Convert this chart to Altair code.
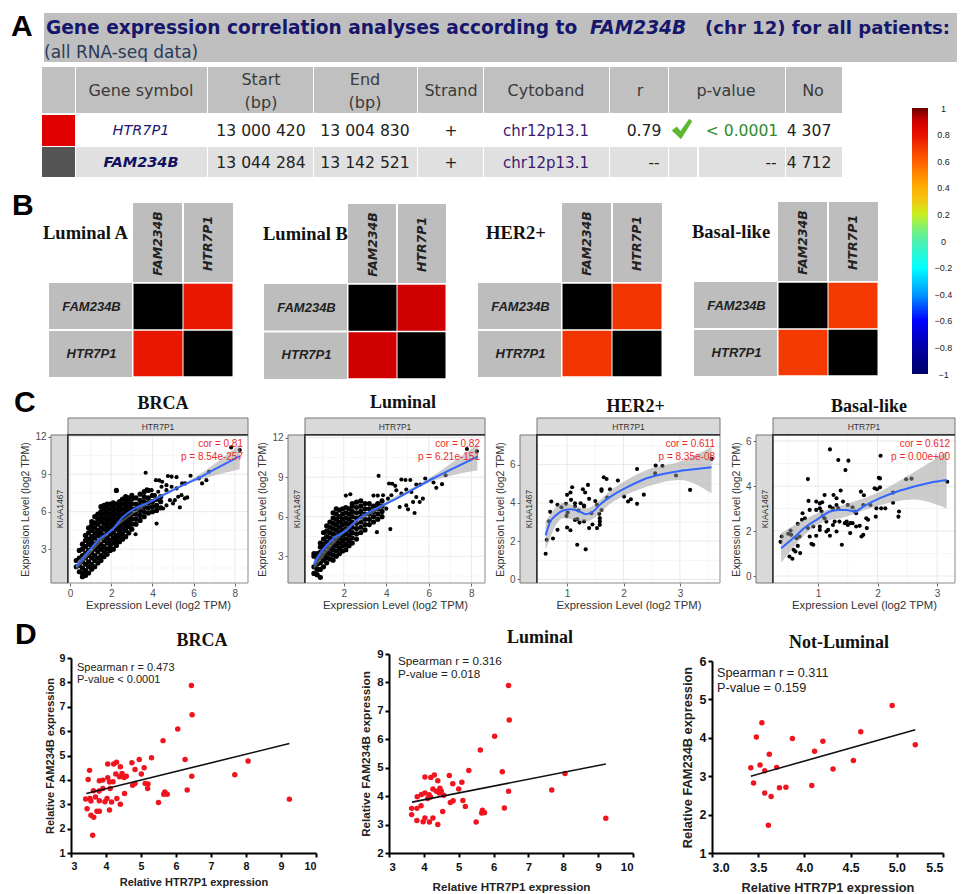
import altair as alt
import pandas as pd

# ---------- PANEL A values ----------
table_headers = ["Gene symbol", "Strand", "Cytoband", "r", "p-value", "No"]
genes = ["HTR7P1", "FAM234B"]
starts = ["13 000 420", "13 044 284"]
ends = ["13 004 830", "13 142 521"]
cytobands = ["chr12p13.1", "chr12p13.1"]
r_column = ["0.79", "--"]
p_column = ["< 0.0001", "--"]
no_column = ["4 307", "4 712"]

# ---------- PANEL B values ----------
heat_titles = ["Luminal A", "Luminal B", "HER2+", "Basal-like"]
heat_r = [0.79, 0.90, 0.72, 0.70]
scale_stops = [-1, -0.8, -0.6, -0.4, -0.2, 0, 0.1, 0.2, 0.3, 0.4, 0.6, 0.7, 0.8, 0.9, 1]
scale_colors = ["#00006a", "#0000a8", "#0000ff", "#0098ff", "#00ffff", "#50f0b0", "#80f070",
                "#c8f020", "#f0c810", "#ffb000", "#ff6000", "#f43a00", "#e81000", "#d00000", "#6b0000"]
scale_ticks = [1, 0.8, 0.6, 0.4, 0.2, 0, -0.2, -0.4, -0.6, -0.8, -1]

# ---------- PANEL C values ----------
brca_cols = {
    0.3: [1.6, 2.1], 0.45: [1.2, 1.7, 2.3, 2.9], 0.6: [0.8, 1.1, 1.5, 2.0, 2.5, 3.0, 3.4],
    0.75: [0.9, 1.3, 1.8, 2.3, 2.7, 3.2, 3.7, 4.1], 0.9: [1.1, 1.6, 2.0, 2.5, 2.9, 3.4, 3.8, 4.3, 4.7],
    1.05: [1.4, 1.8, 2.3, 2.7, 3.2, 3.6, 4.0, 4.5, 4.9, 5.2], 1.2: [1.6, 2.1, 2.5, 3.0, 3.4, 3.9, 4.3, 4.7, 5.1, 5.6],
    1.35: [1.9, 2.3, 2.8, 3.2, 3.6, 4.1, 4.5, 5.0, 5.4, 5.8], 1.5: [2.1, 2.5, 3.0, 3.4, 3.9, 4.3, 4.7, 5.2, 5.6, 6.0, 6.4],
    1.65: [2.4, 2.8, 3.2, 3.7, 4.1, 4.6, 5.0, 5.4, 5.8, 6.2, 6.5], 1.8: [2.6, 3.0, 3.5, 3.9, 4.4, 4.8, 5.2, 5.6, 6.0, 6.4, 6.6],
    1.95: [2.9, 3.3, 3.7, 4.2, 4.6, 5.0, 5.4, 5.8, 6.2, 6.6], 2.1: [3.0, 3.5, 3.9, 4.3, 4.8, 5.2, 5.6, 6.0, 6.4, 6.7],
    2.25: [3.3, 3.7, 4.1, 4.6, 5.0, 5.4, 5.8, 6.2, 6.6, 7.7], 2.4: [3.6, 4.0, 4.4, 4.8, 5.2, 5.6, 6.0, 6.4, 6.8],
    2.55: [3.8, 4.2, 4.6, 5.0, 5.4, 5.8, 6.2, 6.6, 7.0], 2.7: [4.0, 4.5, 4.9, 5.3, 5.7, 6.1, 6.5, 6.9, 7.2],
    2.85: [4.3, 4.8, 5.2, 5.6, 6.0, 6.4, 6.8, 7.1], 3.0: [4.6, 5.0, 5.4, 5.8, 6.2, 6.6, 7.0, 7.3],
    3.2: [5.0, 5.4, 5.8, 6.2, 6.6, 7.1], 3.4: [5.3, 5.7, 6.1, 6.5, 6.9, 7.4], 3.6: [5.6, 6.0, 6.4, 6.8, 7.2, 7.6],
    3.8: [5.9, 6.3, 6.7, 7.1, 7.7], 4.0: [6.0, 6.4, 6.8, 7.3], 4.2: [6.1, 6.5, 7.0], 4.4: [6.3, 6.8, 7.2],
}
brca_tail = [(3.67, 9.11), (4.17, 8.52), (4.33, 8.5), (4.47, 8.39), (4.75, 8.85), (4.93, 8.8), (5.17, 8.76), (5.44, 8.26),
             (5.59, 8.26), (5.85, 8.87), (6.25, 8.66), (6.41, 8.26), (6.62, 8.52), (6.75, 9.19), (7.82, 11.14), (8.24, 10.93),
             (5.33, 6.34), (3.18, 4.2), (4.2, 5.05), (5.0, 6.66), (4.68, 6.5), (4.52, 6.26), (5.09, 6.92), (4.85, 6.92), (5.25, 7.19),
             (5.57, 7.06), (5.69, 7.14), (5.41, 7.32), (4.68, 7.72), (4.93, 7.99), (5.17, 7.86), (4.68, 8.12), (4.44, 7.99),
             (4.28, 7.59), (4.12, 7.32), (3.96, 7.72), (4.12, 6.92), (3.72, 7.78)]
brca_curve = [(0.29, 1.59), (0.81, 2.65), (1.45, 3.85), (2.02, 4.52), (2.58, 5.59), (3.07, 6.18),
              (3.88, 6.79), (4.68, 7.46), (5.49, 8.12), (6.30, 8.74), (7.11, 9.46), (8.24, 10.45)]
brca_band = [(0.29, 1.3, 1.9), (2.0, 4.4, 4.65), (4.0, 6.8, 7.0), (6.0, 8.4, 8.7), (7.0, 8.9, 9.8), (8.24, 9.4, 11.4)]

lum_cols = {
    0.6: [1.7, 2.2, 3.0, 3.2], 0.75: [1.6, 2.0, 2.4, 2.8, 3.2], 0.9: [1.4, 2.0, 2.5, 2.9, 3.3, 3.7, 4.0],
    1.05: [2.2, 2.7, 3.1, 3.5, 3.9, 4.3, 4.8], 1.2: [2.5, 2.9, 3.3, 3.7, 4.1, 4.5, 4.9, 5.3],
    1.35: [2.8, 3.2, 3.6, 4.0, 4.4, 4.8, 5.2, 5.6], 1.5: [2.7, 3.1, 3.5, 3.9, 4.3, 4.7, 5.1, 5.5, 5.9, 6.3],
    1.65: [3.0, 3.4, 3.8, 4.2, 4.6, 5.0, 5.4, 5.8, 6.2, 6.6], 1.8: [3.2, 3.6, 4.0, 4.4, 4.8, 5.2, 5.6, 6.0, 6.5],
    1.95: [3.4, 3.8, 4.2, 4.6, 5.0, 5.4, 5.8, 6.2, 6.6], 2.1: [3.5, 3.9, 4.3, 4.7, 5.1, 5.5, 5.9, 6.3, 6.7],
    2.25: [3.8, 4.2, 4.6, 5.0, 5.4, 5.8, 6.2, 6.6], 2.4: [4.0, 4.4, 4.8, 5.2, 5.6, 6.0, 6.4, 6.8, 7.0],
    2.6: [4.3, 4.7, 5.1, 5.5, 5.9, 6.3, 6.7, 7.1], 2.8: [4.8, 5.2, 5.6, 6.0, 6.4, 6.8, 7.2],
    3.0: [5.0, 5.4, 5.8, 6.2, 6.6, 7.0], 3.2: [5.4, 5.8, 6.2, 6.6, 7.0], 3.4: [5.6, 6.0, 6.4, 6.8],
    3.6: [5.8, 6.2, 6.6, 7.0], 3.8: [6.0, 6.4, 6.8, 7.2],
}
lum_tail = [(3.64, 9.1), (4.13, 8.52), (4.28, 8.5), (4.42, 8.34), (4.71, 8.82), (4.9, 8.79), (5.13, 8.79), (5.41, 8.44),
            (5.6, 8.44), (5.83, 8.9), (6.22, 8.6), (6.35, 8.19), (6.62, 8.47), (6.79, 9.15), (7.79, 11.14), (8.26, 10.96),
            (4.19, 5.06), (3.56, 4.83), (5.33, 6.28), (4.63, 6.74), (4.94, 6.86), (5.02, 6.56), (4.71, 7.75), (4.94, 8.06),
            (5.18, 7.88), (4.47, 8.0), (4.24, 7.63), (4.08, 7.37), (3.85, 7.63), (5.26, 7.12), (5.57, 7.12), (5.72, 7.37),
            (5.41, 7.5), (2.31, 7.7), (4.0, 6.61), (3.53, 6.86), (3.4, 7.6), (3.6, 7.6), (2.1, 7.6)]
lum_curve = [(0.59, 2.36), (0.87, 3.18), (1.26, 3.94), (1.58, 4.45), (2.13, 4.96), (2.59, 5.72), (3.06, 6.23),
             (4.0, 6.99), (4.63, 7.5), (5.41, 8.21), (6.19, 8.9), (6.98, 9.53), (8.28, 10.55)]
lum_band = [(0.59, 2.0, 2.7), (2.0, 4.7, 5.0), (4.0, 6.85, 7.15), (6.0, 8.6, 8.9), (7.0, 9.1, 10.0), (8.28, 9.5, 11.5)]

her2_pts = [(.62, 1.34), (.64, 2.07), (.75, 2.14), (.83, 2.59), (.68, 3.04), (.70, 3.53), (.72, 4.07), (.83, 3.90), (.90, 3.77),
            (.98, 3.95), (.99, 3.32), (1.01, 3.50), (1.00, 2.71), (1.06, 2.57), (1.00, 4.42), (1.06, 4.54), (1.09, 4.82),
            (1.07, 4.16), (1.14, 3.98), (1.14, 3.81), (1.20, 3.60), (1.14, 3.11), (1.18, 3.15), (1.22, 2.97), (1.18, 1.81),
            (1.33, 1.57), (1.30, 3.03), (1.30, 3.81), (1.24, 3.98), (1.30, 3.86), (1.28, 4.71), (1.32, 4.54), (1.37, 4.94),
            (1.39, 4.21), (1.39, 2.68), (1.43, 3.46), (1.45, 2.87), (1.50, 4.10), (1.53, 2.68), (1.58, 2.85), (1.53, 3.90),
            (1.57, 3.43), (1.58, 3.20), (1.58, 3.03), (1.61, 3.63), (1.61, 4.71), (1.61, 4.63), (1.65, 5.34), (1.70, 5.25),
            (1.71, 4.28), (1.76, 4.71), (1.90, 5.17), (2.01, 4.33), (2.08, 4.07), (2.13, 4.19), (2.24, 3.95), (2.24, 5.77),
            (2.36, 4.43), (2.57, 5.95), (2.56, 5.55), (2.69, 5.93), (2.93, 5.43), (3.18, 4.68), (3.56, 6.30)]
her2_curve = [(.62, 2.30), (.69, 2.94), (.81, 3.37), (.93, 3.60), (1.08, 3.67), (1.22, 3.55), (1.33, 3.41), (1.46, 3.55),
              (1.61, 3.98), (1.82, 4.42), (2.11, 4.89), (2.41, 5.29), (2.70, 5.51), (3.0, 5.67), (3.29, 5.77), (3.56, 5.86)]
her2_band = [(.62, 1.55, 3.03), (.93, 3.2, 4.0), (1.33, 3.03, 3.72), (1.82, 4.07, 4.77), (2.41, 4.85, 5.72), (3.0, 5.2, 6.16), (3.56, 4.5, 6.94)]

basal_pts = [(.39, 1.76), (.37, 1.52), (.52, .87), (.57, .77), (.54, 2.02), (.50, 1.88), (.55, 1.83), (.59, 1.17), (.62, 1.09),
             (.66, 1.34), (.70, 1.02), (.64, 1.68), (.69, 1.76), (.74, 2.79), (.78, 2.57), (.66, 2.32), (.73, 2.50), (.83, 2.13),
             (.86, 1.76), (.89, 1.43), (.92, 1.39), (.86, 2.94), (.84, 3.34), (.83, 4.31), (.97, 3.31), (1.03, 3.23), (1.07, 3.28),
             (1.11, 3.60), (.92, 2.20), (.97, 1.79), (1.03, 2.05), (1.03, 2.20), (.97, 2.94), (1.03, 3.01), (1.06, 2.87), (1.08, 2.67),
             (1.11, 2.57), (1.14, 2.42), (1.17, 2.05), (1.20, 3.09), (1.25, 3.01), (1.31, 3.16), (1.34, 3.01), (1.20, 5.63), (1.34, 5.16),
             (1.46, 4.71), (1.51, 5.13), (1.38, 3.80), (1.26, 3.60), (1.31, 3.46), (1.42, 3.31), (1.14, 1.98), (1.20, 1.79), (1.25, 2.27),
             (1.31, 1.98), (1.28, 2.42), (1.36, 2.42), (1.40, 1.39), (1.45, 2.35), (1.48, 2.42), (1.50, 2.27), (1.54, 1.91), (1.54, 2.35),
             (1.58, 2.35), (1.50, 3.16), (1.58, 3.06), (1.62, 2.87), (1.64, 2.79), (1.64, 2.20), (1.70, 2.23), (1.73, 1.76), (1.76, 1.83),
             (1.72, 3.75), (1.77, 3.59), (1.76, 3.16), (1.81, 2.57), (1.82, 2.13), (1.84, 2.50), (1.88, 3.16), (1.95, 3.90), (1.99, 3.86),
             (1.97, 2.64), (1.98, 3.01), (2.02, 4.37), (2.04, 4.34), (2.04, 3.94), (2.05, 5.35), (2.06, 3.01), (2.13, 3.01), (2.26, 3.26),
             (2.26, 3.71), (2.36, 2.87), (2.35, 2.64), (2.48, 4.30), (2.57, 4.33), (3.17, 4.19)]
basal_curve = [(.38, 1.23), (.58, 1.68), (.80, 2.20), (1.0, 2.54), (1.20, 2.87), (1.34, 2.94), (1.48, 2.94), (1.62, 2.87),
               (1.76, 3.09), (2.04, 3.46), (2.32, 3.75), (2.60, 3.97), (2.88, 4.15), (3.16, 4.27)]
basal_band = [(.38, .58, 1.9), (1.0, 2.3, 2.8), (1.48, 2.65, 3.2), (2.04, 3.15, 3.75), (2.6, 3.4, 4.6), (3.16, 3.0, 5.55)]

# ---------- PANEL D values ----------
d_brca_pts = [(3.42, 3.22), (3.54, 3.24), (3.46, 2.82), (3.57, 2.55), (3.65, 2.47), (3.62, 1.73), (3.49, 4.02), (3.53, 4.39), (3.57, 3.13),
              (3.64, 3.55), (3.70, 3.30), (3.81, 3.14), (3.74, 2.71), (3.81, 2.71), (3.80, 3.54), (3.81, 3.96), (3.91, 3.99), (3.91, 3.65),
              (3.97, 3.10), (4.03, 3.24), (4.05, 4.09), (4.05, 4.65), (4.10, 2.76), (4.12, 3.65), (4.10, 3.91), (4.16, 3.09), (4.20, 3.92),
              (4.22, 4.65), (4.30, 4.72), (4.28, 4.24), (4.31, 3.24), (4.41, 3.0), (4.41, 4.54), (4.39, 4.13), (4.46, 4.26), (4.52, 4.10),
              (4.58, 4.15), (4.53, 3.44), (4.74, 4.70), (4.76, 3.78), (4.83, 3.85), (4.83, 4.43), (4.95, 4.84), (5.01, 4.24), (5.09, 4.50),
              (5.12, 3.85), (5.19, 3.65), (5.20, 3.83), (5.30, 4.91), (5.50, 3.07), (5.63, 5.61), (5.65, 3.41), (5.68, 3.50), (5.75, 3.41),
              (6.05, 6.09), (6.26, 4.84), (6.32, 3.58), (6.44, 7.87), (6.46, 6.67), (6.45, 4.15), (7.68, 4.21), (8.06, 4.77), (9.24, 3.21)]
d_brca_line = [(3.44, 3.44), (9.24, 5.49)]
d_lum_pts = [(3.65, 3.57), (3.65, 3.35), (3.80, 3.57), (3.80, 3.14), (3.81, 3.98), (3.92, 3.66), (3.93, 4.06), (3.98, 3.10), (4.03, 3.23),
             (4.03, 4.67), (4.03, 4.11), (4.11, 3.92), (4.15, 4.05), (4.16, 3.09), (4.19, 3.97), (4.20, 4.66), (4.26, 3.23), (4.26, 4.25),
             (4.30, 4.74), (4.36, 4.17), (4.40, 4.54), (4.40, 3.0), (4.44, 4.11), (4.46, 4.28), (4.50, 4.17), (4.54, 3.46), (4.57, 4.03),
             (4.73, 4.73), (4.76, 3.78), (4.84, 3.84), (4.83, 4.44), (5.0, 4.25), (5.09, 4.49), (5.12, 3.85), (5.19, 3.64), (5.29, 4.90),
             (5.50, 3.09), (5.62, 5.62), (5.66, 3.41), (5.68, 3.50), (5.74, 3.42), (6.03, 6.11), (6.25, 4.86), (6.31, 3.58), (6.43, 7.89),
             (6.45, 6.68), (6.43, 4.17), (7.67, 4.22), (8.05, 4.80), (9.22, 3.22)]
d_lum_line = [(3.66, 3.79), (9.22, 5.13)]
d_not_pts = [(3.42, 3.22), (3.45, 2.82), (3.48, 4.02), (3.54, 4.39), (3.52, 3.29), (3.57, 3.14), (3.57, 2.56), (3.62, 3.57), (3.61, 1.72),
             (3.64, 2.47), (3.70, 3.23), (3.73, 2.70), (3.80, 2.71), (3.87, 3.98), (4.08, 2.76), (4.11, 3.65), (4.20, 3.91), (4.31, 3.19),
             (4.53, 3.41), (4.61, 4.16), (4.95, 4.84), (5.20, 3.82)]
d_not_line = [(3.42, 3.0), (5.20, 4.21)]

# ---------- helpers ----------
SANS = "Liberation Sans"
SERIF = "Liberation Serif"
VERD = "DejaVu Sans"
one = pd.DataFrame({"k": [0]})


def box(x, x2, y, y2, fill, stroke=None, sw=1, **kw2):
    kw = {"fill": fill, **kw2}
    if stroke:
        kw.update(stroke=stroke, strokeWidth=sw)
    return alt.Chart(one).mark_rect(**kw).encode(x=alt.value(x), x2=alt.value(x2), y=alt.value(y), y2=alt.value(y2))


def label(text, x, y, **style):
    return alt.Chart(one).mark_text(text=text, **style).encode(x=alt.value(x), y=alt.value(y))


def letter(ch, x, y):
    return label(ch, x, y, font=SANS, fontSize=30, fontWeight="bold", align="left", baseline="alphabetic", color="#000")


def anchor(y, y2):
    return box(0, 1, y, y2, "#ffffff", opacity=0)


def row(items):
    return alt.hconcat(*items, spacing=0, bounds="flush")


def df_of(points):
    return pd.DataFrame(points, columns=["x", "y"])


def cols_to_pts(cols):
    return [(x, y) for x, ylist in cols.items() for y in ylist]


# ---------- PANEL A (drawn in the first cell of the top row) ----------
ROW1 = 8
ROW1_H = 377
col_edges = [(42, 75), (76, 207), (208, 313), (314, 417), (418, 483), (484, 609), (610, 668), (669, 785), (786, 842)]
rects = [dict(x=44, x2=957, y=13, y2=62, c="#bfbfbf")]
for a, b in col_edges:
    rects.append(dict(x=a, x2=b, y=67, y2=113, c="#c0c0c0"))
for a, b in col_edges[1:]:
    if (a, b) == (669, 785):
        rects.append(dict(x=669, x2=697, y=147, y2=177, c="#e0e0e0"))
        rects.append(dict(x=699, x2=785, y=147, y2=177, c="#e0e0e0"))
    else:
        rects.append(dict(x=a, x2=b, y=147, y2=177, c="#e0e0e0"))
rects.append(dict(x=42, x2=75, y=115, y2=146, c="#e00000"))
rects.append(dict(x=42, x2=75, y=147, y2=177, c="#555555"))
xs = alt.Scale(domain=[8, 888], range=[0, 880], nice=False, zero=False)
ys = alt.Scale(domain=[8, 178], range=[0, 170], nice=False, zero=False)
a_rects = alt.Chart(pd.DataFrame(rects)).mark_rect().encode(
    x=alt.X("x:Q", scale=xs, axis=None), x2="x2:Q",
    y=alt.Y("y:Q", scale=ys, axis=None), y2="y2:Q",
    color=alt.Color("c:N", scale=None))


def a_text(rows, **style):
    return alt.Chart(pd.DataFrame(rows, columns=["t", "x", "y"])).mark_text(**style).encode(
        x=alt.X("x:Q", scale=xs, axis=None), y=alt.Y("y:Q", scale=ys, axis=None), text="t:N")


hdr = [(table_headers[0], 141, 91), ("Start", 261, 80), ("(bp)", 261, 103), ("End", 365, 80), ("(bp)", 365, 103),
       (table_headers[1], 451, 91), (table_headers[2], 546, 91), (table_headers[3], 640, 91),
       (table_headers[4], 726, 91), (table_headers[5], 813, 91)]
body = [(starts[0], 261, 131), (ends[0], 365, 131), ("+", 451, 131), (r_column[0], 644, 131), (no_column[0], 809, 131),
        (starts[1], 261, 163), (ends[1], 365, 163), ("+", 451, 163), (r_column[1], 654, 163), (p_column[1], 771, 163), (no_column[1], 809, 163)]
check_path = "M-1,0.15 L-0.5,-0.25 L-0.15,0.2 L0.7,-1 L1,-0.75 L-0.1,1 Z"
first_top = alt.layer(
    anchor(0, ROW1_H),
    a_rects,
    a_text([("Gene expression correlation analyses according to ", 46, 34)], font=VERD, fontSize=18.6, fontWeight="bold", align="left", baseline="alphabetic", color="#16166b"),
    a_text([("FAM234B", 590, 34)], font=VERD, fontSize=18.6, fontWeight="bold", fontStyle="italic", align="left", baseline="alphabetic", color="#16166b"),
    a_text([("(chr 12) for all patients:", 705, 34)], font=VERD, fontSize=18.1, fontWeight="bold", align="left", baseline="alphabetic", color="#16166b"),
    a_text([("(all RNA-seq data)", 44, 58)], font=VERD, fontSize=17, align="left", baseline="alphabetic", color="#2a3a5a"),
    a_text(hdr, font=VERD, fontSize=16, color="#3a3a3a", baseline="middle"),
    a_text(body, font=VERD, fontSize=15.6, color="#222", baseline="middle"),
    a_text([(cytobands[0], 546, 131), (cytobands[1], 546, 163)], font=VERD, fontSize=15, color="#3a1a6e", baseline="middle"),
    a_text([(genes[0], 141, 131)], font=VERD, fontSize=14.5, fontStyle="italic", color="#1a1a6e", baseline="middle"),
    a_text([(genes[1], 141, 163)], font=VERD, fontSize=14.5, fontStyle="italic", fontWeight="bold", color="#10105e", baseline="middle"),
    a_text([(p_column[0], 742, 131)], font=VERD, fontSize=15.6, color="#2e8b2e", baseline="middle"),
    alt.Chart(pd.DataFrame({"x": [682], "y": [129]})).mark_point(shape=check_path, filled=True, opacity=1, size=420, color="#5cb82e").encode(
        x=alt.X("x:Q", scale=xs, axis=None), y=alt.Y("y:Q", scale=ys, axis=None)),
    letter("A", 3, 36 - ROW1),
    letter("B", 4, 215 - ROW1),
).properties(width=125, height=ROW1_H)


# ---------- PANEL B ----------
def heatmap(title, r, w, h, pitch, top, title_x):
    dy = top - ROW1
    df = pd.DataFrame([dict(col=c, row=q, r=(None if c == q else r)) for q in genes[::-1] for c in genes[::-1]])
    order = ["FAM234B", "HTR7P1"]
    X = alt.X("col:N", sort=order, scale=alt.Scale(domain=order, paddingInner=0.02, range=[0, w]), axis=alt.Axis(
        orient="top", title=None, domain=False, ticks=False, labelAngle=270, labelAlign="center", labelBaseline="middle",
        labelPadding=40 - dy, labelFont=VERD, labelFontSize=12.5, labelFontStyle="italic", labelFontWeight="bold", labelColor="#222", zindex=1))
    Y = alt.Y("row:N", sort=order, scale=alt.Scale(domain=order, paddingInner=0.03, range=[dy, dy + h]), axis=alt.Axis(
        title=None, domain=False, ticks=False, labelAlign="center", labelBaseline="middle", labelPadding=42,
        labelFont=SANS, labelFontSize=13, labelFontStyle="italic", labelFontWeight="bold", labelColor="#222", zindex=1))
    off = alt.Chart(df).transform_filter("datum.r != null").mark_rect().encode(
        x=X, y=Y, color=alt.Color("r:Q", scale=alt.Scale(domain=scale_stops, range=scale_colors), legend=None))
    diag = alt.Chart(df).transform_filter("datum.r == null").mark_rect(color="#000").encode(x=X, y=Y)
    half = w / 2 - 1
    return alt.layer(
        box(0, half, dy - 80, dy - 1, "#bdbdbd"), box(half + 2, w, dy - 80, dy - 1, "#bdbdbd"),
        box(-84, -1, dy, dy + h / 2 - 1, "#bdbdbd"), box(-84, -1, dy + h / 2 + 1, dy + h, "#bdbdbd"),
        off, diag,
        label(title, title_x, dy - 50, font=SERIF, fontSize=18.5, fontWeight="bold", align="left", baseline="middle", color="#111"),
    ).properties(width=pitch, height=ROW1_H)


heat1 = heatmap(heat_titles[0], heat_r[0], 100, 94, 215, 283, 43 - 133)
heat2 = heatmap(heat_titles[1], heat_r[1], 98, 95, 214, 284, 263 - 348)
heat3 = heatmap(heat_titles[2], heat_r[2], 100, 94, 216, 283, 486 - 562)
heat4 = heatmap(heat_titles[3], heat_r[3], 100, 94, 134, 282, 692 - 778)

colorbar = alt.Chart(pd.DataFrame({"lo": [-1], "hi": [1]})).mark_rect(
    color=alt.Gradient(gradient="linear", x1=0, y1=1, x2=0, y2=0,
                       stops=[alt.GradientStop(offset=(s + 1) / 2, color=c) for s, c in zip(scale_stops, scale_colors)])
).encode(
    x=alt.value(0), x2=alt.value(16),
    y=alt.Y("lo:Q", scale=alt.Scale(domain=[-1, 1], range=[374 - ROW1, 108 - ROW1], nice=False, zero=False), axis=alt.Axis(
        orient="right", title=None, domain=False, ticks=False, grid=False, values=scale_ticks, format=".1~f", labelAlign="center",
        labelPadding=15, labelFont=SANS, labelFontSize=9, labelColor="#222", labelOverlap=False, labelBound=False, labelFlush=False)),
    y2="hi:Q",
).properties(width=16, height=ROW1_H)
row_top = row([first_top, heat1, heat2, heat3, heat4, colorbar])

# ---------- PANEL C ----------
ROW2 = 385
C_OFF = 435 - ROW2
C_H = 148


def tcga(title, blob, tail, curve, band, xdom, ydom, xvals, yvals, xminor, yminor, w, pitch, cor, p, title_dx, title_y):
    h = C_H
    sx = alt.Scale(domain=xdom, range=[0, w], nice=False, zero=False)
    sy = alt.Scale(domain=ydom, range=[C_OFF + h, C_OFF], nice=False, zero=False)
    ax = alt.Axis(values=xvals, grid=False, domain=False, tickColor="#666", tickSize=3, labelColor="#4d4d4d",
                  labelFont=SANS, labelFontSize=10, labelPadding=2, title="Expression Level (log2 TPM)", titleFont=SANS, titleFontSize=11.3,
                  titleFontWeight="normal", titleColor="#333", titlePadding=1)
    ay = alt.Axis(values=yvals, grid=False, domain=False, tickColor="#666", tickSize=3, labelColor="#4d4d4d",
                  labelFont=SANS, labelFontSize=10, labelPadding=2, offset=17, title="Expression Level (log2 TPM)", titleFont=SANS, titleFontSize=10.5,
                  titleFontWeight="normal", titleColor="#333", titlePadding=4)
    layers = []
    for vals, colr in ((xminor, "#f5f5f5"), (xvals, "#e9e9e9")):
        layers.append(alt.Chart(pd.DataFrame({"v": vals})).mark_rule(color=colr).encode(x=alt.X("v:Q", scale=sx, axis=ax), y=alt.value(C_OFF), y2=alt.value(C_OFF + h)))
    for vals, colr in ((yminor, "#f5f5f5"), (yvals, "#e9e9e9")):
        layers.append(alt.Chart(pd.DataFrame({"v": vals})).mark_rule(color=colr).encode(y=alt.Y("v:Q", scale=sy, axis=ay), x=alt.value(0), x2=alt.value(w)))
    if blob:
        layers.append(alt.Chart(df_of(blob)).mark_circle(color="#000", opacity=1, size=27).encode(
            x=alt.X("x:Q", scale=sx, axis=ax), y=alt.Y("y:Q", scale=sy, axis=ay)))
    pts_l = alt.Chart(df_of(tail)).mark_circle(color="#000", opacity=1, size=17).encode(
        x=alt.X("x:Q", scale=sx, axis=ax), y=alt.Y("y:Q", scale=sy, axis=ay))
    band_l = alt.Chart(pd.DataFrame(band, columns=["x", "lo", "hi"])).mark_area(color="#999", opacity=0.5, interpolate="monotone").encode(
        x=alt.X("x:Q", scale=sx, axis=ax), y=alt.Y("lo:Q", scale=sy, axis=ay), y2="hi:Q")
    line_l = alt.Chart(df_of(curve)).mark_line(color="#3366ff", strokeWidth=2, interpolate="monotone").encode(
        x=alt.X("x:Q", scale=sx, axis=ax), y=alt.Y("y:Q", scale=sy, axis=ay))
    return alt.layer(
        *layers, pts_l, band_l, line_l,
        box(0, w, C_OFF, C_OFF + h, "transparent", "#8a8a8a"),
        box(0, w, C_OFF - 17, C_OFF, "#d9d9d9", "#777"),
        box(-17, 0, C_OFF, C_OFF + h, "#d9d9d9", "#777"),
        box(-1, 0.5, C_OFF - 1, C_OFF + h, "#333"), box(-1, w, C_OFF - 1, C_OFF + 0.5, "#333"),
        label("HTR7P1", w / 2, C_OFF - 8.5, font=SANS, fontSize=8.5, color="#333", baseline="middle"),
        label("KIAA1467", -8.5, C_OFF + h / 2, font=SANS, fontSize=8.5, color="#333", angle=270, baseline="middle"),
        label(cor, w - 5, C_OFF + 9, font=SANS, fontSize=10, color="#ee2a2a", align="right", baseline="middle"),
        label(p, w - 5, C_OFF + 22, font=SANS, fontSize=10, color="#ee2a2a", align="right", baseline="middle"),
        label(title, w / 2 + title_dx, title_y, font=SERIF, fontSize=18, fontWeight="bold", color="#111", baseline="middle"),
    ).properties(width=pitch, height=C_OFF + h)


c1 = tcga("BRCA", cols_to_pts(brca_cols), brca_tail, brca_curve, brca_band, [-0.1, 8.64], [0.3, 12.13], [0, 2, 4, 6, 8], [3, 6, 9, 12],
          [1, 3, 5, 7], [1.5, 4.5, 7.5, 10.5], 180, 237, "cor = 0.81", "p = 8.54e-257", 5, 19)
c2 = tcga("Luminal", cols_to_pts(lum_cols), lum_tail, lum_curve, lum_band, [0.18, 8.64], [0.97, 12.2], [2, 4, 6, 8], [3, 6, 9, 12],
          [1, 3, 5, 7], [1.5, 4.5, 7.5, 10.5], 180, 232, "cor = 0.82", "p = 6.21e-151", 8, 18)
c3 = tcga("HER2+", [], her2_pts, her2_curve, her2_band, [0.467, 3.71], [-0.19, 7.55], [1, 2, 3], [0, 2, 4, 6],
          [1.5, 2.5, 3.5], [1, 3, 5, 7], 183, 236, "cor = 0.611", "p = 8.35e-08", 7, 22)
c4 = tcga("Basal-like", [], basal_pts, basal_curve, basal_band, [0.244, 3.30], [-0.31, 6.27], [1, 2, 3], [0, 2, 4, 6],
          [0.5, 1.5, 2.5], [1, 3, 5], 182, 182, "cor = 0.612", "p = 0.00e+00", 5, 22)
first_c = alt.layer(anchor(0, 230), letter("C", 6, 412 - ROW2)).properties(width=60, height=C_OFF + C_H)
row_c = row([first_c, c1, c2, c3, c4])

# ---------- PANEL D ----------
ROW3 = 615
D_BOTTOM = 853


def spearman(title, pts, line, xdom, ydom, xvals, yvals, w, top, pitch, ann1, ann2, fs, tfs, tx, ty, ann_x, ann_y, ann_gap, lab_pad, y_pad, fmt="d"):
    sx = alt.Scale(domain=xdom, range=[0, w], nice=False, zero=False)
    sy = alt.Scale(domain=ydom, range=[D_BOTTOM - ROW3, top - ROW3], nice=False, zero=False)
    common = dict(grid=False, domainColor="#000", domainWidth=2, tickColor="#000", tickWidth=2, tickSize=4, labelColor="#111",
                  labelFont=SANS, labelFontSize=fs + 0.7, labelFontWeight="bold", labelOverlap=False, titleFont=SANS, titleFontSize=tfs,
                  titleFontWeight="bold", titleColor="#222")
    ax = alt.Axis(values=xvals, format=fmt, labelPadding=4, title="Relative HTR7P1 expression", titlePadding=lab_pad, **common)
    ay = alt.Axis(values=yvals, format="d", labelPadding=2, title="Relative FAM234B expression", titlePadding=y_pad, **common)
    pts_l = alt.Chart(df_of(pts)).mark_circle(color="#f0141e", opacity=1, size=30).encode(
        x=alt.X("x:Q", scale=sx, axis=ax), y=alt.Y("y:Q", scale=sy, axis=ay))
    line_l = alt.Chart(df_of(line)).mark_line(color="#111", strokeWidth=1.6).encode(
        x=alt.X("x:Q", scale=sx, axis=ax), y=alt.Y("y:Q", scale=sy, axis=ay))
    return alt.layer(
        pts_l, line_l,
        label(ann1, ann_x, ann_y - ROW3, font=SANS, fontSize=fs + 1, color="#222", align="left", baseline="middle"),
        label(ann2, ann_x, ann_y + ann_gap - ROW3, font=SANS, fontSize=fs + 1, color="#222", align="left", baseline="middle"),
        label(title, tx, ty - ROW3, font=SERIF, fontSize=18, fontWeight="bold", color="#111", baseline="middle"),
    ).properties(width=pitch, height=D_BOTTOM - ROW3)


d1 = spearman("BRCA", d_brca_pts, d_brca_line, [3, 10], [1, 9], [3, 4, 5, 6, 7, 8, 9, 10], [1, 2, 3, 4, 5, 6, 7, 8, 9], 245, 658, 318,
              "Spearman r = 0.473", "P-value < 0.0001", 10, 11, 131, 641, 6, 668, 12, 6, 4)
d2 = spearman("Luminal", d_lum_pts, d_lum_line, [3, 10], [2, 9], [3, 4, 5, 6, 7, 8, 9, 10], [2, 3, 4, 5, 6, 7, 8, 9], 244, 654, 323,
              "Spearman r = 0.316", "P-value = 0.018", 10.7, 11.7, 151, 638, 9, 661, 13, 9, 5)
d3 = spearman("Not-Luminal", d_not_pts, d_not_line, [3.0, 5.5], [1, 6], [3.0, 3.5, 4.0, 4.5, 5.0, 5.5], [1, 2, 3, 4, 5, 6], 231, 661, 231,
              "Spearman r = 0.311", "P-value = 0.159", 11.7, 12.8, 127, 643, 5, 673, 15, 8, 5, fmt=".1f")
first_d = alt.layer(anchor(0, D_BOTTOM - ROW3), letter("D", 7, 644 - ROW3)).properties(width=63, height=D_BOTTOM - ROW3)
row_d = row([first_d, d1, d2, d3])

chart = (alt.vconcat(row_top, row_c, row_d, spacing=0, bounds="full").properties(padding=0)
         .configure_view(stroke=None).configure_axis(labelOverlap=False))
chart.save("out.html", embed_options={"renderer": "svg", "actions": False})
